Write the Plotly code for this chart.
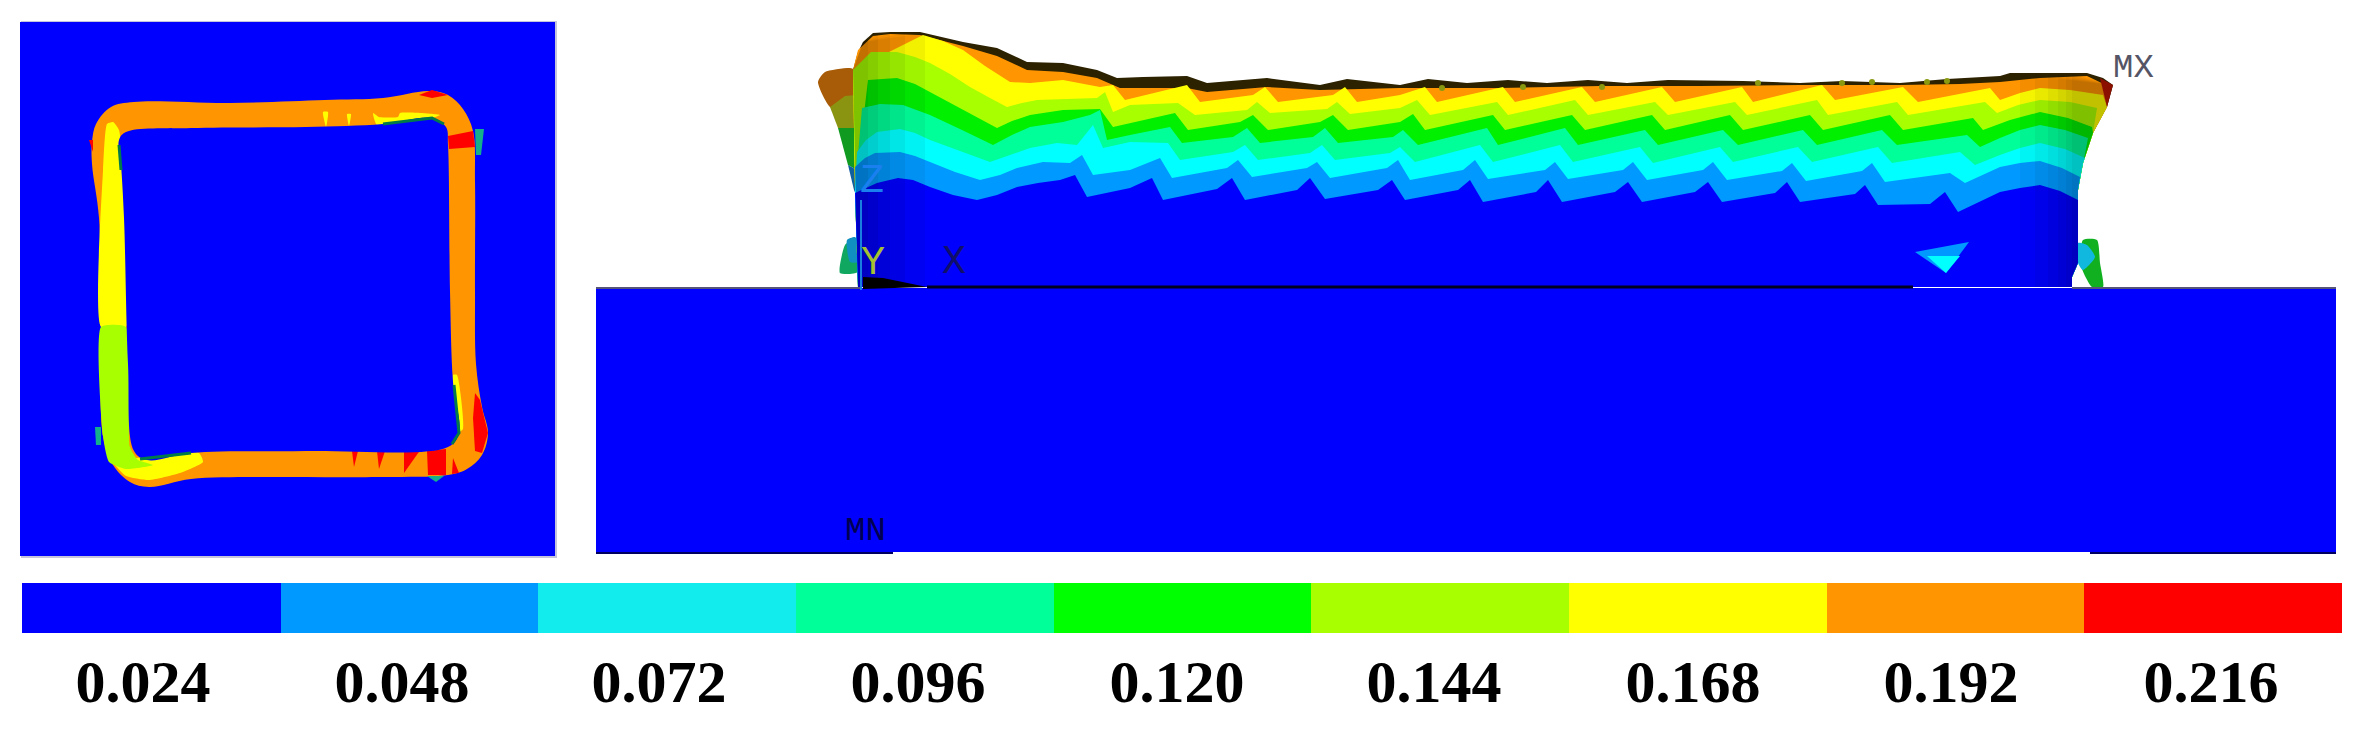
import plotly.graph_objects as go

WIDTH = 2366
HEIGHT = 736

# colour scale of the contour plot
LEVELS = ["0.024", "0.048", "0.072", "0.096", "0.120", "0.144", "0.168", "0.192", "0.216"]
BAR_COLORS = ["#0000ff", "#0099ff", "#12ecec", "#00ff99", "#00ff00", "#a8ff00", "#ffff00", "#ff9500", "#ff0000"]
BAND_COLORS = ["#0000ff", "#0099ff", "#00ffff", "#00ff99", "#00f000", "#a8ff00", "#ffff00", "#ff9500"]
BAR_LEFTS = [22, 281, 538, 796, 1054, 1311, 1569, 1827, 2084]
BAR_WIDTHS = [259, 257, 258, 258, 257, 258, 258, 257, 258]
LABEL_X = [143, 402, 659, 918, 1177, 1434, 1693, 1951, 2211]

# top view, square ring
RING_OUTER = [(92, 142), (96, 124), (111, 107), (134, 102), (230, 103), (325, 100), (383, 98), (429, 91),
              (448, 95), (463, 109), (473, 131), (475, 182), (475, 291), (476, 364), (482, 407), (488, 433),
              (482, 455), (467, 469), (448, 475), (383, 477), (268, 477), (191, 479), (149, 487), (130, 482),
              (113, 465), (103, 436), (101, 327), (99, 218), (92, 164)]
RING_INNER = [(119, 140), (126, 132), (191, 128), (306, 127), (383, 124), (432, 118), (446, 127), (448, 145),
              (450, 291), (453, 382), (459, 433), (448, 447), (306, 451), (191, 453), (147, 460), (134, 451),
              (128, 364), (124, 218), (121, 164)]
RING_YELLOW = [
    [(103, 171), (107, 124), (113, 122), (119, 130), (126, 327), (101, 327)],
    [(109, 455), (134, 458), (199, 453), (203, 462), (180, 473), (149, 480), (126, 476), (115, 465)],
    [(373, 113), (377, 125), (432, 118), (440, 115), (421, 113), (400, 113), (398, 117), (379, 117)],
    [(453, 375), (457, 375), (463, 429), (457, 433)],
    [(323, 112), (328, 112), (326, 127)],
    [(347, 114), (351, 114), (349, 126)],
]
RING_LIME = [(101, 327), (126, 327), (130, 447), (138, 460), (153, 465), (126, 469), (109, 462), (103, 436)]
RING_RED = [
    [(448, 136), (473, 131), (475, 147), (449, 149)],
    [(419, 95), (432, 90), (448, 95), (432, 98)],
    [(475, 393), (480, 400), (488, 433), (482, 453), (475, 451), (473, 418)],
    [(427, 451), (446, 449), (446, 475), (428, 475)],
    [(352, 451), (358, 451), (354, 467)],
    [(377, 451), (385, 451), (379, 469)],
    [(404, 451), (421, 449), (404, 473)],
    [(453, 458), (459, 473), (452, 474)],
    [(89, 140), (93, 140), (93, 152)],
]
RING_NUBS = [
    [(475, 129), (484, 129), (481, 155), (476, 155)],
    [(95, 427), (101, 427), (101, 445), (96, 445)],
    [(427, 476), (444, 476), (436, 482)],
]
RING_EDGE_X = [119, 121, None, 140, 191, None, 383, 432, 444, None, 454, 459, 452]
RING_EDGE_Y = [145, 170, None, 459, 453, None, 124, 118, 124, None, 385, 433, 444]

# side view outline
TOP_EDGE = [(853, 70), (858, 52), (863, 42), (873, 33), (890, 32), (920, 32), (963, 42), (997, 48), (1027, 62), (1063, 63),
            (1097, 70), (1117, 78), (1143, 77), (1187, 76), (1207, 83), (1267, 78), (1320, 85), (1347, 79), (1400, 85),
            (1428, 79), (1467, 83), (1508, 80), (1547, 83), (1588, 80), (1627, 83), (1668, 80), (1743, 81),
            (1800, 83), (1842, 81), (1900, 83), (1947, 79), (2000, 76), (2010, 73), (2087, 73), (2103, 78), (2113, 85)]
RIGHT_EDGE = [(2113, 85), (2107, 107), (2093, 133), (2083, 163), (2078, 190), (2078, 263), (2072, 277), (2072, 287)]
LEFT_EDGE = [(853, 70), (855, 190), (858, 287)]

# contour boundaries, bottom band first
BOUNDARY_BLUE = [(855, 193), (877, 183), (898, 178), (913, 180), (930, 187), (953, 195), (977, 200), (997, 195), (1017, 187),
                 (1038, 183), (1060, 180), (1075, 175), (1087, 197),
                 (1130, 188), (1152, 178), (1163, 200), (1217, 189), (1232, 178), (1245, 200), (1297, 190), (1310, 178),
                 (1325, 199), (1378, 190), (1392, 180), (1405, 200), (1458, 190), (1470, 180), (1483, 202), (1536, 192),
                 (1548, 180), (1562, 202), (1615, 192), (1628, 182), (1642, 202), (1695, 192), (1708, 182), (1722, 202),
                 (1775, 193), (1787, 182), (1800, 202), (1855, 194), (1865, 185), (1878, 205), (1930, 204), (1945, 192),
                 (1958, 212), (2000, 192), (2020, 188), (2040, 185), (2060, 191), (2078, 200)]
BOUNDARY_LIGHT = [(855, 167), (865, 158), (875, 153), (900, 152), (915, 156), (930, 162), (955, 172), (980, 180), (1000, 175),
                  (1017, 168), (1043, 162), (1070, 163),
                  (1082, 155), (1093, 175), (1130, 170), (1160, 158), (1172, 178), (1227, 168), (1238, 160), (1252, 177),
                  (1307, 168), (1317, 162), (1330, 178), (1387, 168), (1398, 160), (1410, 180), (1463, 170), (1475, 160),
                  (1488, 179), (1545, 170), (1555, 162), (1568, 179), (1623, 170), (1633, 162), (1647, 180), (1703, 170),
                  (1713, 162), (1727, 180), (1782, 171), (1792, 163), (1806, 181), (1862, 171), (1872, 163), (1885, 182),
                  (1950, 173), (1965, 183), (2000, 167), (2020, 163), (2040, 161), (2062, 168), (2080, 177)]
BOUNDARY_CYAN = [(857, 152), (866, 140), (877, 132), (900, 129), (915, 133), (930, 140), (960, 151), (990, 162), (1010, 155),
                 (1030, 148), (1057, 143), (1077, 145),
                 (1093, 125), (1103, 148), (1130, 142), (1168, 143), (1180, 160), (1233, 152), (1245, 145), (1258, 160),
                 (1310, 153), (1322, 145), (1335, 160), (1390, 153), (1400, 147), (1415, 162), (1480, 145), (1493, 162),
                 (1560, 145), (1573, 162), (1640, 147), (1653, 163), (1720, 147), (1733, 162), (1798, 147), (1812, 162),
                 (1878, 147), (1892, 163), (1960, 152), (1975, 165), (2000, 155), (2020, 148), (2040, 143), (2065, 149), (2085, 158)]
BOUNDARY_SPRING = [(862, 108), (880, 104), (903, 105), (930, 115), (962, 130), (993, 145), (1012, 135), (1030, 127), (1063, 122),
                   (1090, 115),
                   (1100, 110), (1107, 140), (1130, 135), (1170, 127), (1182, 143), (1233, 137), (1247, 128), (1260, 143),
                   (1313, 137), (1325, 128), (1338, 143), (1393, 137), (1403, 130), (1418, 145), (1487, 128), (1498, 145),
                   (1565, 128), (1578, 145), (1645, 130), (1658, 145), (1723, 130), (1738, 145), (1803, 130), (1817, 145),
                   (1882, 130), (1897, 145), (1967, 135), (1980, 147), (2000, 138), (2020, 130), (2040, 125), (2065, 130), (2088, 138)]
BOUNDARY_GREEN = [(868, 80), (897, 78), (915, 84), (930, 92), (963, 110), (997, 128), (1012, 121), (1030, 115), (1063, 110),
                  (1100, 109),
                  (1113, 127), (1130, 123), (1175, 113), (1188, 130), (1240, 122), (1253, 115), (1268, 130), (1320, 122),
                  (1333, 115), (1348, 130), (1400, 122), (1413, 114), (1425, 130), (1493, 115), (1505, 130), (1572, 115),
                  (1585, 130), (1652, 115), (1665, 130), (1730, 115), (1743, 130), (1810, 115), (1823, 130), (1890, 115),
                  (1903, 130), (1973, 118), (1983, 130), (2010, 120), (2040, 112), (2068, 118), (2092, 127)]
BOUNDARY_LIME = [(871, 52), (897, 52), (915, 57), (930, 63), (950, 74), (970, 87), (990, 98), (1007, 107), (1022, 103),
                 (1037, 100), (1097, 98), (1105, 92),
                 (1113, 112), (1130, 105), (1178, 103), (1195, 115), (1247, 110), (1257, 102), (1270, 113), (1327, 109),
                 (1337, 102), (1350, 114), (1400, 108), (1417, 100), (1430, 115), (1497, 102), (1508, 115), (1575, 100),
                 (1588, 115), (1655, 102), (1668, 115), (1735, 102), (1747, 115), (1817, 100), (1828, 115), (1897, 102),
                 (1908, 115), (1985, 102), (1997, 113), (2018, 105), (2040, 100), (2070, 102), (2097, 108)]
BOUNDARY_YELLOW = [(923, 35), (943, 41), (963, 50), (985, 66), (1010, 82), (1030, 83), (1063, 80), (1100, 87), (1113, 85), (1125, 100),
                   (1187, 85), (1200, 102), (1253, 95), (1265, 87), (1278, 102), (1333, 95), (1345, 87), (1357, 102),
                   (1400, 95), (1425, 87), (1437, 102), (1503, 87), (1515, 102), (1582, 87), (1595, 102), (1662, 87),
                   (1675, 102), (1742, 87), (1753, 102), (1822, 85), (1835, 100), (1903, 87), (1918, 102), (1990, 88),
                   (2000, 100), (2020, 93), (2040, 88), (2070, 90), (2103, 95)]
BOUNDARY_ORANGE = [(858, 50), (873, 36), (890, 34), (920, 35), (963, 46), (997, 56), (1027, 70), (1063, 72), (1097, 78),
                   (1120, 88), (1187, 88), (1207, 92), (1267, 87), (1320, 90), (1400, 88), (1500, 88), (1600, 86),
                   (1700, 86), (1800, 85), (1900, 85), (1960, 84), (2000, 82), (2040, 78), (2087, 76), (2110, 87)]

SPECK_X = [1442, 1523, 1602, 1758, 1842, 1872, 1927, 1947]
SPECK_Y = [88, 87, 87, 83, 83, 82, 82, 81]

EAR_DARK = [(818, 82), (825, 72), (850, 68), (855, 70), (857, 95), (845, 110), (830, 107)]
EAR_OLIVE = [(830, 107), (845, 96), (857, 95), (857, 128), (838, 128)]
EAR_GREEN = [(838, 128), (857, 128), (857, 170), (848, 165)]
EAR_BLUE = [(848, 165), (857, 170), (858, 200), (854, 190)]
FOOT_LEFT = [(840, 273), (845, 245), (852, 240), (858, 240), (858, 272)]
FOOT_LEFT_TOP = [(847, 240), (855, 237), (860, 245), (858, 262), (850, 262)]
FOOT_RIGHT = [(2083, 240), (2097, 240), (2100, 263), (2103, 287), (2092, 287), (2080, 263)]
FOOT_RIGHT_TOP = [(2078, 243), (2087, 245), (2095, 257), (2083, 270), (2078, 263)]
HOLE_LIGHT = [(1915, 252), (1969, 242), (1946, 273)]
HOLE_CYAN = [(1946, 273), (1960, 256), (1927, 256)]
WEDGE = [(863, 277), (883, 278), (927, 287), (863, 289)]


def poly(fig, pts, color, smoothing=0):
    shape = "spline" if smoothing else "linear"
    line = dict(width=0, shape=shape)
    if smoothing:
        line["smoothing"] = smoothing
    fig.add_trace(go.Scatter(
        x=[p[0] for p in pts] + [pts[0][0]],
        y=[p[1] for p in pts] + [pts[0][1]],
        mode="lines",
        fill="toself",
        fillcolor=color,
        line=line,
        hoverinfo="skip",
    ))


def rect(x0, y0, x1, y1):
    return [(x0, y0), (x1, y0), (x1, y1), (x0, y1)]


def band(boundary):
    """Area under a contour line, closed along the body edge"""
    right = [p for p in RIGHT_EDGE if p[1] > boundary[-1][1]]
    left = [p for p in LEFT_EDGE if p[1] > boundary[0][1]]
    return boundary + right + left[::-1]


fig = go.Figure()

# top view
poly(fig, rect(21, 21, 557, 558), "#c4c4dc")
poly(fig, rect(20, 22, 555, 556), "#0000ff")
poly(fig, RING_OUTER, BAND_COLORS[7], 1.0)
for nub in RING_NUBS:
    poly(fig, nub, "#14b08c")
for piece in RING_YELLOW:
    poly(fig, piece, BAND_COLORS[6], 0.5)
poly(fig, RING_LIME, BAND_COLORS[5], 0.5)
for piece in RING_RED:
    poly(fig, piece, BAR_COLORS[8])
poly(fig, RING_INNER, "#0000ff", 1.0)
fig.add_trace(go.Scatter(x=RING_EDGE_X, y=RING_EDGE_Y, mode="lines",
                         line=dict(color="#007a4a", width=3), hoverinfo="skip"))

# flared corners and feet behind the body
poly(fig, EAR_DARK, "#a85c08", 0.6)
poly(fig, EAR_OLIVE, "#8a9410")
poly(fig, EAR_GREEN, "#109a20")
poly(fig, EAR_BLUE, "#1060a0")
poly(fig, FOOT_LEFT, "#10a860", 0.6)
poly(fig, FOOT_LEFT_TOP, "#1090c0", 0.6)
poly(fig, FOOT_RIGHT, "#10b020", 0.6)
poly(fig, FOOT_RIGHT_TOP, "#10b8e0", 0.6)

# contour bands, painted from the top down
poly(fig, TOP_EDGE + RIGHT_EDGE[1:] + LEFT_EDGE[::-1][:-1], "#2c2200")
contours = [BOUNDARY_ORANGE, BOUNDARY_YELLOW, BOUNDARY_LIME, BOUNDARY_GREEN,
            BOUNDARY_SPRING, BOUNDARY_CYAN, BOUNDARY_LIGHT, BOUNDARY_BLUE]
for line, color in zip(contours, BAND_COLORS[::-1]):
    poly(fig, band(line), color)

fig.add_trace(go.Scatter(x=SPECK_X, y=SPECK_Y, mode="markers",
                         marker=dict(color="#8a9a10", size=6, line=dict(width=0)), hoverinfo="skip"))

poly(fig, HOLE_LIGHT, BAND_COLORS[1])
poly(fig, HOLE_CYAN, BAND_COLORS[2])

# shading towards the body edges
for x0 in [2020, 2035, 2048, 2058, 2066, 2072]:
    poly(fig, [(x0, 74)] + RIGHT_EDGE + [(x0, 287)], "rgba(0,0,0,0.045)")
for x1, top in [(925, 33), (905, 33), (890, 33), (878, 33), (868, 36)]:
    poly(fig, [(853, 70), (863, 42), (x1, top), (x1, 287), (858, 287)], "rgba(0,0,0,0.05)")
poly(fig, [(2100, 78), (2113, 85), (2107, 107), (2104, 94)], "#8c1000")

# side view, base block
poly(fig, rect(596, 288, 2336, 552), "#0000ff")
fig.add_trace(go.Scatter(x=[596, 893, None, 2090, 2336], y=[553, 553, None, 553, 553], mode="lines",
                         line=dict(color="#000060", width=2), hoverinfo="skip"))
fig.add_trace(go.Scatter(x=[596, 860, None, 2072, 2336], y=[288, 288, None, 288, 288], mode="lines",
                         line=dict(color="#55557a", width=2), hoverinfo="skip"))

poly(fig, WEDGE, "#000000")
fig.add_trace(go.Scatter(x=[1913, 927], y=[287, 287], mode="lines",
                         line=dict(color="#000020", width=3), hoverinfo="skip"))
fig.add_trace(go.Scatter(x=[861, 861], y=[200, 290], mode="lines",
                         line=dict(color="#1a80e0", width=2), hoverinfo="skip"))

# colour bar with its labels
fig.add_trace(go.Bar(
    x=BAR_WIDTHS,
    base=BAR_LEFTS,
    y=[608] * len(LEVELS),
    width=50,
    orientation="h",
    marker=dict(color=BAR_COLORS, line=dict(width=0)),
    hoverinfo="skip",
))
fig.add_trace(go.Scatter(
    x=LABEL_X,
    y=[687] * len(LEVELS),
    mode="text",
    text=LEVELS,
    textposition="middle center",
    textfont=dict(family="Liberation Serif", size=60, color="#000000", weight="bold"),
    hoverinfo="skip",
))

# ANSYS triad and min/max labels
for label, x, y, color, size in [("Z", 872, 181, "#1a80f0", 40), ("Y", 873, 263, "#a5c030", 40),
                                 ("X", 954, 262, "#10106a", 40), ("MX", 2133, 68, "#555566", 34),
                                 ("MN", 865, 531, "#000050", 34)]:
    fig.add_annotation(x=x, y=y, text=label, showarrow=False,
                       font=dict(family="Liberation Mono", size=size, color=color))

fig.update_layout(
    width=WIDTH,
    height=HEIGHT,
    margin=dict(l=0, r=0, t=0, b=0),
    paper_bgcolor="white",
    plot_bgcolor="white",
    showlegend=False,
    bargap=0,
    xaxis=dict(range=[0, WIDTH], visible=False, fixedrange=True),
    yaxis=dict(range=[HEIGHT, 0], visible=False, fixedrange=True),
)

fig.write_html("out.html", config={"displayModeBar": False},
               post_script="document.body.style.margin='0';")
